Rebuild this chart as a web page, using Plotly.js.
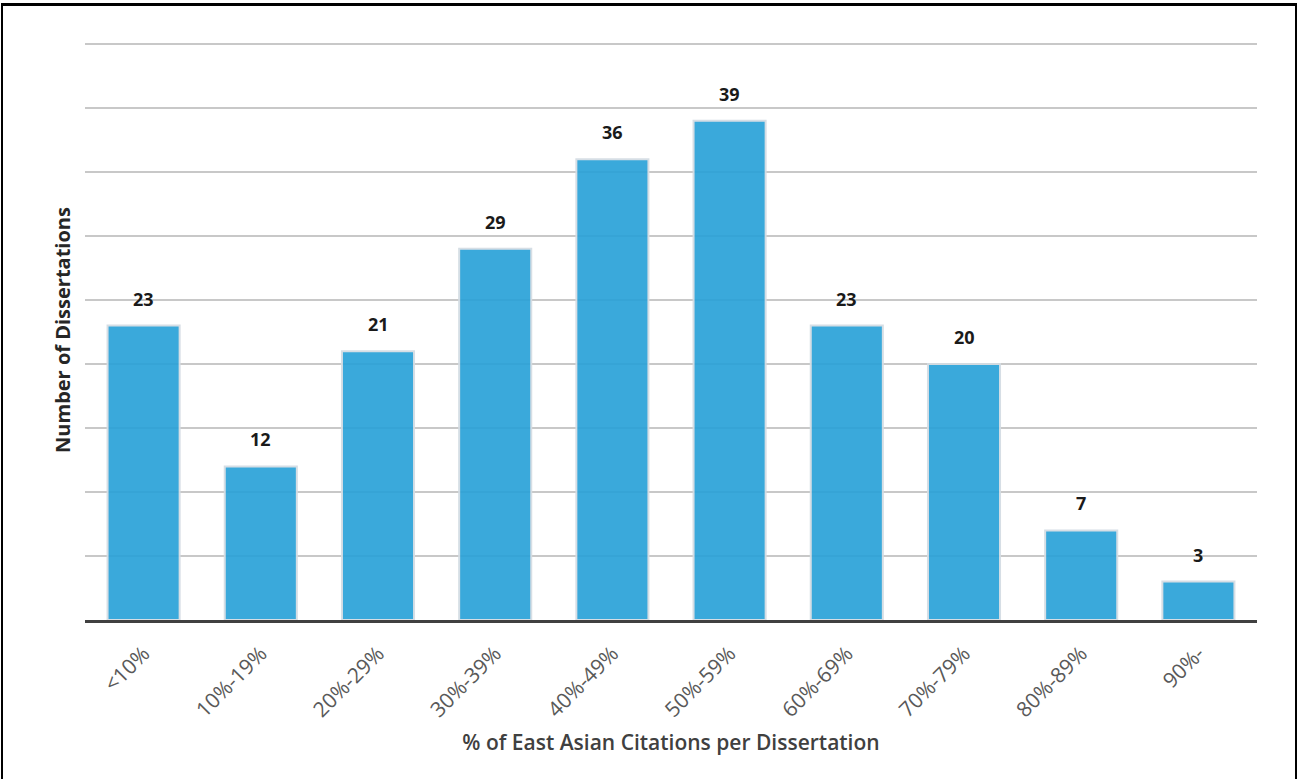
<!DOCTYPE html>
<html>
<head>
<meta charset="utf-8">
<script src="https://cdn.plot.ly/plotly-3.0.1.min.js"></script>
<style>
  html, body { margin: 0; padding: 0; background: #fff; }
  #chart { width: 1297px; height: 779px; }
  #frame { position: absolute; left: 1px; top: 3px; width: 1292px; height: 800px;
           border-top: 3px solid #000; border-left: 2px solid #000; border-right: 2px solid #000;
           pointer-events: none; }
</style>
</head>
<body>
<div id="chart"></div>
<div id="frame"></div>
<script>
const categories = ["<10%", "10%-19%", "20%-29%", "30%-39%", "40%-49%", "50%-59%", "60%-69%", "70%-79%", "80%-89%", "90%-"];
const counts = [23, 12, 21, 29, 36, 39, 23, 20, 7, 3];
const xTitle = "% of East Asian Citations per Dissertation";
const yTitle = "Number of Dissertations";

const trace = {
  type: "bar",
  x: categories,
  y: counts,
  marker: { color: "#2aa2d8", opacity: 0.92, line: { color: "#d3dce3", width: 2 } },
  hoverinfo: "x+y"
};

const annotations = categories.map((c, i) => ({
  x: c, y: counts[i], xref: "x", yref: "y",
  text: String(counts[i]), showarrow: false,
  yanchor: "bottom", yshift: 13,
  font: { family: "Open Sans, sans-serif", size: 18, color: "#1a1a1a", weight: "bold" }
}));

const layout = {
  width: 1297, height: 779,
  margin: { l: 85, r: 40, t: 40, b: 159 },
  paper_bgcolor: "#fff", plot_bgcolor: "#fff",
  bargap: 0.385,
  showlegend: false,
  xaxis: {
    type: "category",
    tickangle: -45,
    tickfont: { family: "Open Sans, sans-serif", size: 21, color: "#595959" },
    showgrid: false,
    showline: true, linecolor: "#404040", linewidth: 3,
    ticks: "outside", ticklen: 10, tickcolor: "rgba(0,0,0,0)",
    title: { text: xTitle, standoff: 14,
             font: { family: "Open Sans, sans-serif", size: 21, color: "#404040", weight: 600 } },
    automargin: false
  },
  yaxis: {
    range: [0, 45.3125],
    dtick: 5,
    showticklabels: false,
    showgrid: true, gridcolor: "#c8c8c8", gridwidth: 1.5,
    zeroline: false,
    ticks: "",
    title: { text: yTitle, standoff: 8,
             font: { family: "Open Sans, sans-serif", size: 20, color: "#262626", weight: "bold" } },
    automargin: false
  },
  annotations: annotations
};

Plotly.newPlot("chart", [trace], layout, { displayModeBar: false, staticPlot: true });
</script>
</body>
</html>
